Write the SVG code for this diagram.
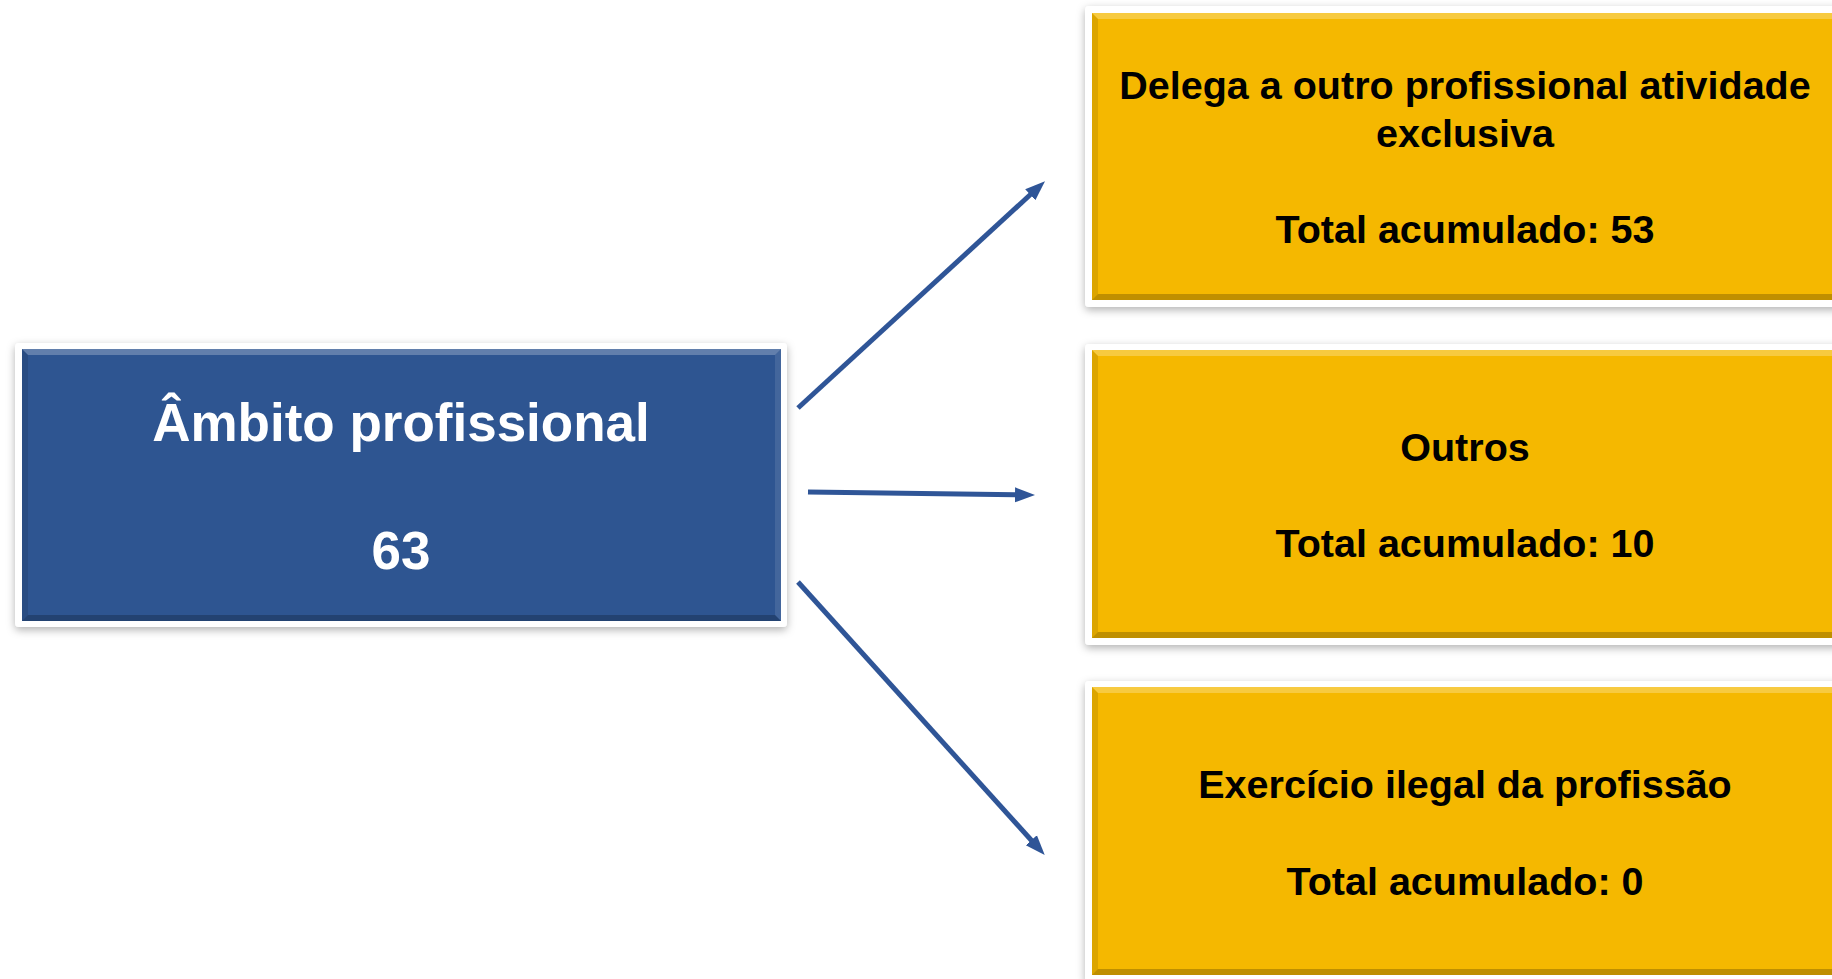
<svg xmlns="http://www.w3.org/2000/svg" width="1832" height="979" viewBox="0 0 1832 979">
<style>
.frame{fill:#ffffff;filter:url(#sh)}
.blue{fill:#2E5591}
.yellow{fill:#F5B800}
.hl{fill:#ffffff;opacity:0.25}
.hl2{fill:#ffffff;opacity:0.1}
.dk{fill:#000000;opacity:0.22}
.dk2{fill:#000000;opacity:0.1}
.tw{font-family:"Liberation Sans",Arial,sans-serif;font-weight:bold;font-size:53px;fill:#ffffff;text-anchor:middle}
.tb{font-family:"Liberation Sans",Arial,sans-serif;font-weight:bold;font-size:39.5px;fill:#000000;text-anchor:middle}
.conn{stroke:#2F5597;stroke-width:5;fill:none;marker-end:url(#ah)}
</style>
<defs>
<filter id="sh" x="-10%" y="-10%" width="120%" height="130%">
<feDropShadow dx="0" dy="3" stdDeviation="4" flood-color="#000000" flood-opacity="0.3"/>
</filter>
<marker id="ah" markerUnits="userSpaceOnUse" viewBox="0 -9 22 18" markerWidth="22" markerHeight="18" refX="1" refY="0" orient="auto">
<path d="M0,-7.5 L20,0 L0,7.5 z" fill="#2F5597"/>
</marker>
</defs>
<rect width="1832" height="979" fill="#ffffff"/>

<g id="node-ambito">
<rect class="frame" x="15" y="343" width="772" height="284" rx="4"/>
<rect class="blue" x="22" y="349" width="759" height="272"/>
<polygon class="hl" points="22,349 781,349 775,355 28,355"/>
<polygon class="dk2" points="22,349 28,355 28,615 22,621"/>
<polygon class="hl2" points="781,349 781,621 775,615 775,355"/>
<polygon class="dk" points="22,621 28,615 775,615 781,621"/>
<text class="tw" x="401" y="441">Âmbito profissional</text>
<text class="tw" x="401" y="569">63</text>
</g>

<g id="node-delega">
<rect class="frame" x="1085" y="6" width="760" height="301" rx="4"/>
<rect class="yellow" x="1092" y="13" width="746" height="287"/>
<polygon class="hl" points="1092,13 1838,13 1832,19 1098,19"/>
<polygon class="dk2" points="1092,13 1098,19 1098,294 1092,300"/>
<polygon class="dk" points="1092,300 1098,294 1832,294 1838,300"/>
<text class="tb" x="1465" y="99">Delega a outro profissional atividade</text>
<text class="tb" x="1465" y="147">exclusiva</text>
<text class="tb" x="1465" y="243">Total acumulado: 53</text>
</g>

<g id="node-outros">
<rect class="frame" x="1085" y="344" width="760" height="301" rx="4"/>
<rect class="yellow" x="1092" y="350" width="746" height="288"/>
<polygon class="hl" points="1092,350 1838,350 1832,356 1098,356"/>
<polygon class="dk2" points="1092,350 1098,356 1098,632 1092,638"/>
<polygon class="dk" points="1092,638 1098,632 1832,632 1838,638"/>
<text class="tb" x="1465" y="461">Outros</text>
<text class="tb" x="1465" y="557">Total acumulado: 10</text>
</g>

<g id="node-exercicio">
<rect class="frame" x="1085" y="681" width="760" height="301" rx="4"/>
<rect class="yellow" x="1092" y="687" width="746" height="288"/>
<polygon class="hl" points="1092,687 1838,687 1832,693 1098,693"/>
<polygon class="dk2" points="1092,687 1098,693 1098,969 1092,975"/>
<polygon class="dk" points="1092,975 1098,969 1832,969 1838,975"/>
<text class="tb" x="1465" y="798">Exercício ilegal da profissão</text>
<text class="tb" x="1465" y="895">Total acumulado: 0</text>
</g>

<g id="connectors">
<line class="conn" x1="798" y1="408" x2="1031" y2="194"/>
<line class="conn" x1="808" y1="492" x2="1016" y2="494.8"/>
<line class="conn" x1="798" y1="582" x2="1032" y2="841"/>
</g>
</svg>
